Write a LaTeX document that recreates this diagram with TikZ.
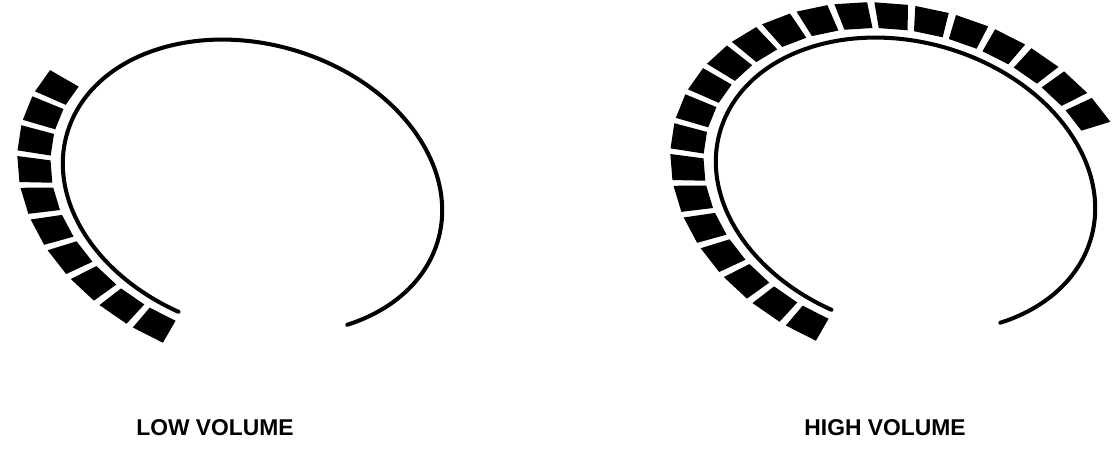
\documentclass[tikz,border=0pt]{standalone}
\usepackage{fontspec}
\setsansfont{Liberation Sans}
\tikzset{
    dial/.style={
        line width=2.3pt, line cap=round
    },
    caption/.style={
        font=\sffamily\bfseries\fontsize{13}{15}\selectfont
    }
}

\begin{document}
\begin{tikzpicture}[x=0.02cm, y=0.02cm]

\useasboundingbox (0,0) rectangle (1118,476);

\def\ra{193}
\def\rb{143}
\def\tilt{-16}
\def\segin{1.065}
\def\segout{1.24}
\def\segw{8.2}
\def\segpitch{10}
\def\segfirst{255.5}
\pgfmathsetmacro\ria{\segin*\ra}
\pgfmathsetmacro\rib{\segin*\rb}
\pgfmathsetmacro\roa{\segout*\ra}
\pgfmathsetmacro\rob{\segout*\rb}

% one gauge: ring and #1 lit segments
\newcommand{\volgauge}[1]{
  \draw[dial] (-48:{\ra} and {\rb}) arc[start angle=-48, end angle=259, x radius=\ra, y radius=\rb];
  \foreach \k in {1,...,#1} {
    \pgfmathsetmacro\ta{\segfirst-\segpitch*(\k-1)+\segw/2}
    \pgfmathsetmacro\tb{\ta-\segw}
    \fill (\ta:{\ria} and {\rib}) -- (\tb:{\ria} and {\rib})
      -- (\tb:{\roa} and {\rob}) -- (\ta:{\roa} and {\rob}) -- cycle;
  }
}

% low volume gauge
\begin{scope}[shift={(252.5,289)}, rotate=\tilt]
  \volgauge{10}
\end{scope}

% high volume gauge
\begin{scope}[shift={(905.5,291)}, rotate=\tilt]
  \volgauge{22}
\end{scope}

\node[caption] (lowcap) at (215,48) {LOW VOLUME};
\node[caption] (highcap) at (885,48) {HIGH VOLUME};

\end{tikzpicture}
\end{document}
